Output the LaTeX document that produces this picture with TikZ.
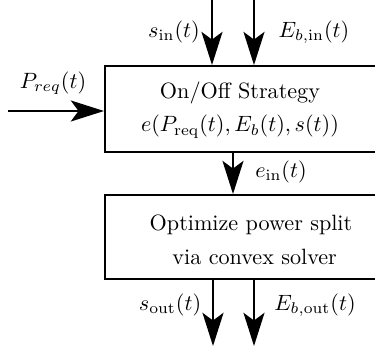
\documentclass[tikz,border=0pt]{standalone}
\usetikzlibrary{arrows.meta}
\begin{document}
\begin{tikzpicture}[x=0.4516pt, y=-0.4516pt,
  block/.style={draw, line width=0.9pt, inner sep=0pt},
  blocktext/.style={align=center, inner sep=0pt},
  flow/.style={line width=0.8pt, -{Stealth[length=15pt, width=9.5pt, inset=3.5pt]}},
  lbl/.style={inner sep=0pt}]
  \useasboundingbox (0,0) rectangle (375,350);
  \clip (0,0) rectangle (375,350);

  % the two processing blocks (their right edges run off the page)
  \node[block, minimum width=135.5pt, minimum height=38.8pt] (strat) at (255,109) {};
  \node[blocktext] (strattext) at (240,110)
    {On/Off Strategy\\[3pt] $e(P_{\mathrm{req}}(t), E_b(t), s(t))$};
  \node[block, minimum width=135.5pt, minimum height=37.9pt] (opt) at (255,237) {};
  \node[blocktext] (opttext) at (251,240)
    {Optimize power split\\[3.5pt] \ via convex solver};

  % free ends of the input and output arrows
  \coordinate (sin0) at (212,0);
  \coordinate (ebin0) at (254,0);
  \coordinate (preq0) at (8,111);
  \coordinate (sout1) at (213,346);
  \coordinate (ebout1) at (254,346);

  % inputs
  \draw[flow] (sin0) -- (sin0 |- strat.north);
  \draw[flow] (ebin0) -- (ebin0 |- strat.north);
  \draw[flow] (preq0) -- (preq0 -| strat.west);

  % between the blocks
  \coordinate (ein) at (233,0);
  \draw[flow] (ein |- strat.south) -- (ein |- opt.north);

  % outputs
  \draw[flow] (sout1 |- opt.south) -- (sout1);
  \draw[flow] (ebout1 |- opt.south) -- (ebout1);

  % signal labels
  \node[lbl] (lsin) at (174,32) {$s_{\mathrm{in}}(t)$};
  \node[lbl] (lebin) at (314,32) {$E_{b,\mathrm{in}}(t)$};
  \node[lbl] (lpreq) at (53,83) {$P_{req}(t)$};
  \node[lbl] (lein) at (281,172) {$e_{\mathrm{in}}(t)$};
  \node[lbl] (lsout) at (170,305) {$s_{\mathrm{out}}(t)$};
  \node[lbl] (lebout) at (315,305) {$E_{b,\mathrm{out}}(t)$};
\end{tikzpicture}
\end{document}
